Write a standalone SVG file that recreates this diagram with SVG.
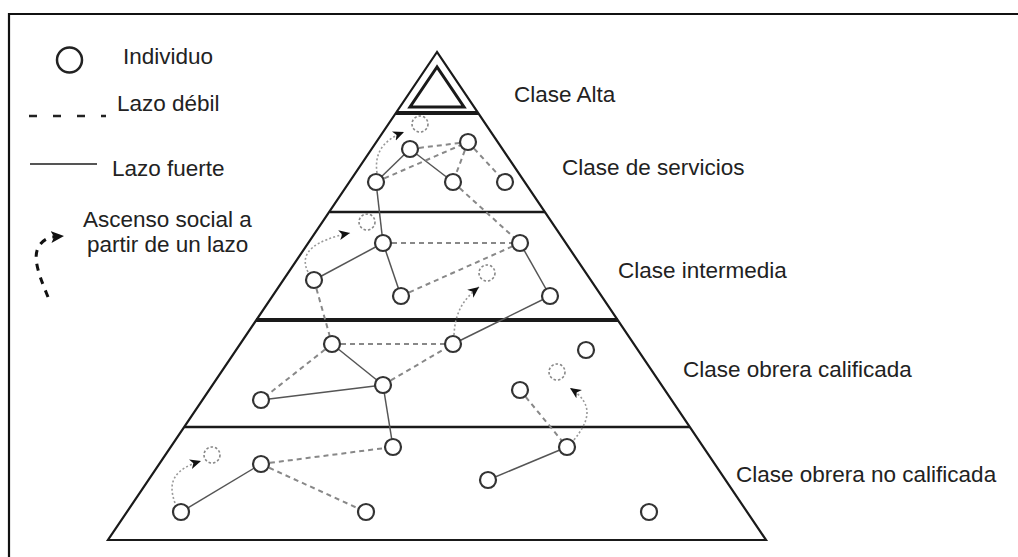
<svg xmlns="http://www.w3.org/2000/svg" width="1018" height="557" viewBox="0 0 1018 557">
<style>
.t{font-family:"Liberation Sans",Arial,sans-serif;font-size:22.5px;fill:#222}
.nd{fill:#fff;stroke:#333;stroke-width:2.2}
.nx{fill:#fff;stroke:#888;stroke-width:1.6;stroke-dasharray:2.5 2}
.s{stroke:#555;stroke-width:1.5;fill:none}
.d{stroke:#888;stroke-width:2;stroke-dasharray:5 4;fill:none}
.a{stroke:#999;stroke-width:1.6;stroke-dasharray:2 2.2;fill:none;marker-end:url(#ah)}
.lv{stroke:#1a1a1a;fill:none}
</style>
<defs>
<marker id="ah" markerUnits="userSpaceOnUse" markerWidth="14" markerHeight="12" refX="11" refY="5" orient="auto">
<path d="M0,0 L11,5 L0,10 L3,5 Z" fill="#111"/>
</marker>
<marker id="ahl" markerUnits="userSpaceOnUse" markerWidth="16" markerHeight="14" refX="13" refY="6" orient="auto">
<path d="M0,0 L13,6 L0,12 L3,6 Z" fill="#111"/>
</marker>
</defs>
<rect width="1018" height="557" fill="#fff"/>
<g id="frame">
<path d="M9,557 V14 H1018" fill="none" stroke="#111" stroke-width="2.2"/>
</g>
<g id="legend">
<circle cx="69.5" cy="60" r="12.5" fill="#fff" stroke="#222" stroke-width="2.5"/>
<text class="t" x="123" y="64">Individuo</text>
<line x1="29" y1="116" x2="106" y2="116" stroke="#222" stroke-width="2.5" stroke-dasharray="8 16"/>
<text class="t" x="117" y="111">Lazo débil</text>
<line x1="30" y1="164" x2="97" y2="164" stroke="#555" stroke-width="2"/>
<text class="t" x="112" y="176">Lazo fuerte</text>
<path d="M48,297 C38,272 26,246 51,237 L64,236" fill="none" stroke="#111" stroke-width="3" stroke-dasharray="7 7" marker-end="url(#ahl)"/>
<text class="t" x="83" y="227">Ascenso social a</text>
<text class="t" x="87" y="252">partir de un lazo</text>
</g>
<g id="pyramid">
<path class="lv" d="M437,52 L108,540 L766,540 Z" stroke-width="2.2" stroke-linejoin="miter"/>
<path class="lv" d="M437,67 L410,107 L464,107 Z" stroke-width="3"/>
<line class="lv" x1="396" y1="113" x2="478" y2="113" stroke-width="4"/>
<line class="lv" x1="330" y1="212" x2="545" y2="212" stroke-width="2.5"/>
<line class="lv" x1="256" y1="320" x2="618" y2="320" stroke-width="4"/>
<line class="lv" x1="184" y1="427" x2="690" y2="427" stroke-width="2.5"/>
</g>
<g id="labels">
<text class="t" x="514" y="102">Clase Alta</text>
<text class="t" x="562" y="175">Clase de servicios</text>
<text class="t" x="618" y="278">Clase intermedia</text>
<text class="t" x="683" y="377">Clase obrera calificada</text>
<text class="t" x="736" y="482">Clase obrera no calificada</text>
</g>
<g id="connectors">
<line class="s" x1="410" y1="149" x2="453" y2="182"/>
<line class="s" x1="376" y1="182" x2="410" y2="149"/>
<line class="s" x1="376" y1="182" x2="383" y2="243"/>
<line class="s" x1="314" y1="280" x2="383" y2="243"/>
<line class="s" x1="383" y1="243" x2="401" y2="296"/>
<line class="s" x1="520" y1="243" x2="550" y2="296"/>
<line class="s" x1="550" y1="296" x2="453" y2="344"/>
<line class="s" x1="332" y1="344" x2="383" y2="385"/>
<line class="s" x1="261" y1="400" x2="383" y2="385"/>
<line class="s" x1="383" y1="385" x2="393" y2="447"/>
<line class="s" x1="181" y1="512" x2="261" y2="464"/>
<line class="s" x1="488" y1="480" x2="567" y2="447"/>
<line class="d" x1="410" y1="149" x2="468" y2="142"/>
<line class="d" x1="376" y1="182" x2="468" y2="142"/>
<line class="d" x1="468" y1="142" x2="453" y2="182"/>
<line class="d" x1="468" y1="142" x2="505" y2="182"/>
<line class="d" x1="453" y1="182" x2="520" y2="243"/>
<line class="d" x1="383" y1="243" x2="520" y2="243"/>
<line class="d" x1="401" y1="296" x2="520" y2="243"/>
<line class="d" x1="314" y1="280" x2="332" y2="344"/>
<line class="d" x1="332" y1="344" x2="453" y2="344"/>
<line class="d" x1="332" y1="344" x2="261" y2="400"/>
<line class="d" x1="383" y1="385" x2="453" y2="344"/>
<line class="d" x1="520" y1="390" x2="567" y2="447"/>
<line class="d" x1="261" y1="464" x2="393" y2="447"/>
<line class="d" x1="261" y1="464" x2="366" y2="512"/>
<path class="a" d="M377,173 C374,152 384,140 404,132"/>
<path class="a" d="M308,272 C298,252 316,240 350,233"/>
<path class="a" d="M454,335 C455,314 462,300 479,287"/>
<path class="a" d="M574,440 C590,420 594,404 570,388"/>
<path class="a" d="M175,503 C167,481 175,469 201,461"/>
</g>
<g id="nodes">
<g id="s0"><circle class="nx" cx="420" cy="124" r="8"/></g>
<g id="s1"><circle class="nd" cx="410" cy="149" r="8"/></g>
<g id="s2"><circle class="nd" cx="468" cy="142" r="8"/></g>
<g id="s3"><circle class="nd" cx="376" cy="182" r="8"/></g>
<g id="s4"><circle class="nd" cx="453" cy="182" r="8"/></g>
<g id="s5"><circle class="nd" cx="505" cy="182" r="8"/></g>
<g id="i0"><circle class="nx" cx="367" cy="222" r="8"/></g>
<g id="i1"><circle class="nd" cx="383" cy="243" r="8"/></g>
<g id="i2"><circle class="nd" cx="520" cy="243" r="8"/></g>
<g id="i3"><circle class="nd" cx="314" cy="280" r="8"/></g>
<g id="i4"><circle class="nx" cx="487" cy="273" r="8"/></g>
<g id="i5"><circle class="nd" cx="401" cy="296" r="8"/></g>
<g id="i6"><circle class="nd" cx="550" cy="296" r="8"/></g>
<g id="c1"><circle class="nd" cx="332" cy="344" r="8"/></g>
<g id="c2"><circle class="nd" cx="453" cy="344" r="8"/></g>
<g id="c3"><circle class="nd" cx="586" cy="350" r="8"/></g>
<g id="c0"><circle class="nx" cx="557" cy="372" r="8"/></g>
<g id="c4"><circle class="nd" cx="383" cy="385" r="8"/></g>
<g id="c5"><circle class="nd" cx="520" cy="390" r="8"/></g>
<g id="c6"><circle class="nd" cx="261" cy="400" r="8"/></g>
<g id="b0"><circle class="nx" cx="212" cy="455" r="8"/></g>
<g id="b1"><circle class="nd" cx="261" cy="464" r="8"/></g>
<g id="b2"><circle class="nd" cx="393" cy="447" r="8"/></g>
<g id="b3"><circle class="nd" cx="567" cy="447" r="8"/></g>
<g id="b4"><circle class="nd" cx="488" cy="480" r="8"/></g>
<g id="b5"><circle class="nd" cx="181" cy="512" r="8"/></g>
<g id="b6"><circle class="nd" cx="366" cy="512" r="8"/></g>
<g id="b7"><circle class="nd" cx="649" cy="512" r="8"/></g>
</g>
</svg>
